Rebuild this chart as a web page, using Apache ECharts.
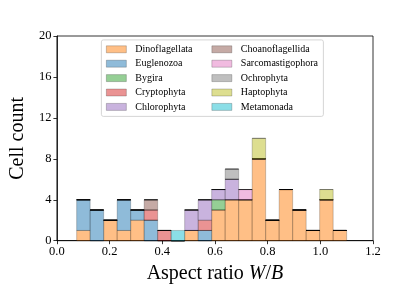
<!DOCTYPE html>
<html>
<head>
<meta charset="utf-8">
<script src="https://cdn.jsdelivr.net/npm/echarts@6/dist/echarts.min.js"></script>
<style>html,body{margin:0;padding:0;background:#fff}#c{width:415px;height:297px}</style>
</head>
<body>
<div id="c"></div>
<script>
// Histogram bin edges (aspect ratio W/B)
var binEdges = [0.075, 0.12625, 0.1775, 0.22875, 0.28, 0.33125, 0.3825, 0.43375, 0.485, 0.53625, 0.5875, 0.63875, 0.69, 0.74125, 0.7925, 0.84375, 0.895, 0.94625, 0.9975, 1.04875, 1.1];
var groups = ['Dinoflagellata','Euglenozoa','Bygira','Cryptophyta','Chlorophyta','Choanoflagellida','Sarcomastigophora','Ochrophyta','Haptophyta','Metamonada'];
var dinoflagellata    = [1,0,2,1,2,0,0,0,1,0,3,4,4,8,2,5,3,1,4,1];
var euglenozoa        = [3,3,0,3,1,2,0,0,0,1,0,0,0,0,0,0,0,0,0,0];
var bygira            = [0,0,0,0,0,0,0,0,0,0,1,0,0,0,0,0,0,0,0,0];
var cryptophyta       = [0,0,0,0,0,1,1,0,0,1,0,0,0,0,0,0,0,0,0,0];
var chlorophyta       = [0,0,0,0,0,0,0,0,2,2,1,2,0,0,0,0,0,0,0,0];
var choanoflagellida  = [0,0,0,0,0,1,0,0,0,0,0,0,0,0,0,0,0,0,0,0];
var sarcomastigophora = [0,0,0,0,0,0,0,0,0,0,0,0,1,0,0,0,0,0,0,0];
var ochrophyta        = [0,0,0,0,0,0,0,0,0,0,0,1,0,0,0,0,0,0,0,0];
var haptophyta        = [0,0,0,0,0,0,0,0,0,0,0,0,0,2,0,0,0,0,1,0];
var metamonada        = [0,0,0,0,0,0,0,1,0,0,0,0,0,0,0,0,0,0,0,0];
var xTicks = [0.0,0.2,0.4,0.6,0.8,1.0,1.2];
var yTicks = [0,4,8,12,16,20];

var counts = [dinoflagellata,euglenozoa,bygira,cryptophyta,chlorophyta,choanoflagellida,sarcomastigophora,ochrophyta,haptophyta,metamonada];
var colors = ['rgba(255,127,14,0.5)','rgba(31,119,180,0.5)','rgba(44,160,44,0.5)','rgba(214,39,40,0.5)','rgba(148,103,189,0.5)','rgba(140,86,75,0.5)','rgba(227,119,194,0.5)','rgba(127,127,127,0.5)','rgba(188,189,34,0.5)','rgba(23,190,207,0.5)'];
var edge = 'rgba(0,0,0,0.3)';
var FONT = '"Liberation Serif", "DejaVu Serif", serif';

var base = binEdges.slice(0,-1).map(function(){return 0;});
var series = groups.map(function(g, si){
  var data = counts[si].map(function(v, i){
    var item = [binEdges[i], binEdges[i+1], base[i], base[i] + v];
    base[i] += v;
    return item;
  });
  return {
    type: 'custom', name: g,
    itemStyle: {color: colors[si]},
    encode: {x: [0,1], y: [2,3]},
    data: data,
    renderItem: function(params, api){
      var p0 = api.coord([api.value(0), api.value(3)]);
      var p1 = api.coord([api.value(1), api.value(2)]);
      return {
        type: 'rect',
        shape: {x: p0[0], y: p0[1], width: p1[0]-p0[0], height: p1[1]-p0[1]},
        style: {fill: colors[si], stroke: edge, lineWidth: 0.7}
      };
    }
  };
});

function legendData(list){
  return list.map(function(g){
    var si = groups.indexOf(g);
    return {name: g, itemStyle: {color: colors[si], borderColor: 'rgba(0,0,0,0.3)', borderWidth: 0.7}};
  });
}
var legendCommon = {
  orient: 'vertical', icon: 'rect', itemWidth: 20, itemHeight: 7, itemGap: 2.4, padding: 0,
  selectedMode: false, z: 10,
  textStyle: {fontFamily: FONT, fontSize: 10, lineHeight: 12, color: '#000', padding: [0,0,0,4]}
};

var chart = echarts.init(document.getElementById('c'), null, {renderer: 'canvas'});
chart.setOption({
  animation: false,
  backgroundColor: '#fff',
  grid: {left: 52, right: 42, top: 36, bottom: 56.3, show: true, borderColor: '#000', borderWidth: 0.8},
  graphic: [{
    type: 'rect', z: 5, left: 101, top: 39.5,
    shape: {width: 222, height: 76.5, r: 2},
    style: {fill: 'rgba(255,255,255,0.8)', stroke: '#cccccc', lineWidth: 0.8}
  }],
  legend: [
    Object.assign({left: 106, top: 43.3, data: legendData(groups.slice(0,5))}, legendCommon),
    Object.assign({left: 211.5, top: 43.3, data: legendData(groups.slice(5))}, legendCommon)
  ],
  xAxis: {
    type: 'value', min: xTicks[0], max: xTicks[xTicks.length-1], interval: 0.2,
    name: 'Aspect ratio {i|W}/{i|B}', nameLocation: 'middle', nameGap: 22,
    nameTextStyle: {fontFamily: FONT, fontSize: 20, color: '#000',
      rich: {i: {fontFamily: FONT, fontSize: 20, fontStyle: 'italic', color: '#000'}}},
    axisLine: {show: true, lineStyle: {color: '#000', width: 0.8}},
    axisTick: {show: true, length: 3.5, lineStyle: {color: '#000', width: 0.8}},
    axisLabel: {fontFamily: FONT, fontSize: 12.5, color: '#000', margin: 5,
      formatter: function(v){return v.toFixed(1);}},
    splitLine: {show: false}
  },
  yAxis: {
    type: 'value', min: yTicks[0], max: yTicks[yTicks.length-1], interval: 4,
    name: 'Cell count', nameLocation: 'middle', nameGap: 23,
    nameTextStyle: {fontFamily: FONT, fontSize: 20, color: '#000'},
    axisLine: {show: true, lineStyle: {color: '#000', width: 0.8}},
    axisTick: {show: true, length: 3.5, lineStyle: {color: '#000', width: 0.8}},
    axisLabel: {fontFamily: FONT, fontSize: 12.5, color: '#000', margin: 5.5},
    splitLine: {show: false}
  },
  series: series
});
</script>
</body>
</html>
